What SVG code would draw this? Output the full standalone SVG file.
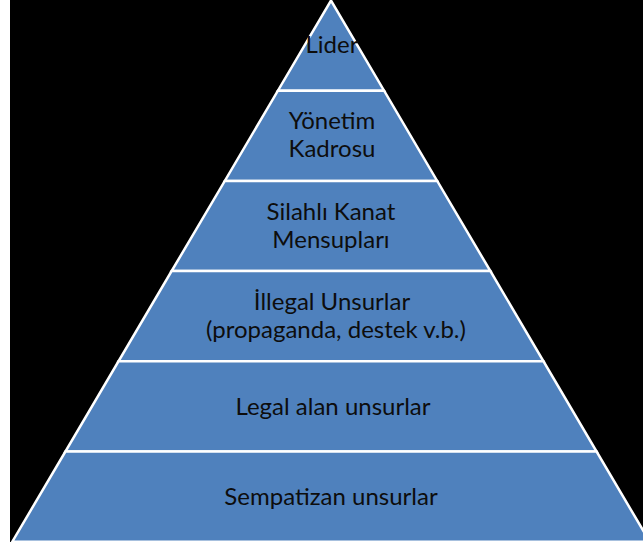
<svg xmlns="http://www.w3.org/2000/svg" width="643" height="546" viewBox="0 0 643 546">
<style>
.layer{fill:#4F81BD;stroke:#FFFFFF;stroke-width:2.5;stroke-linejoin:miter}
.lbl{font-family:Lato,"Open Sans","Liberation Sans",sans-serif;font-size:24px;fill:#0d0d0d;text-anchor:middle}
</style>
<rect x="0" y="0" width="643" height="546" fill="#FFFFFF"/>
<rect x="10" y="0" width="633" height="542" fill="#000000"/>
<g id="lider">
<polygon class="layer" points="331,0.5 384.1,90.7 277.9,90.7"/>
<text class="lbl" x="332" y="53">Lider</text>
</g>
<g id="yonetim">
<polygon class="layer" points="277.9,90.7 384.1,90.7 437.2,180.9 224.8,180.9"/>
<text class="lbl" x="332" y="129">Yönetim</text>
<text class="lbl" x="332" y="157">Kadrosu</text>
</g>
<g id="silahli">
<polygon class="layer" points="224.8,180.9 437.2,180.9 490.4,271.1 171.6,271.1"/>
<text class="lbl" x="331" y="220">Silahlı Kanat</text>
<text class="lbl" x="331" y="248">Mensupları</text>
</g>
<g id="illegal">
<polygon class="layer" points="171.6,271.1 490.4,271.1 543.5,361.3 118.5,361.3"/>
<text class="lbl" x="332" y="310">İllegal Unsurlar</text>
<text class="lbl" x="336" y="338">(propaganda, destek v.b.)</text>
</g>
<g id="legal">
<polygon class="layer" points="118.5,361.3 543.5,361.3 596.6,451.5 65.4,451.5"/>
<text class="lbl" x="333" y="415">Legal alan unsurlar</text>
</g>
<g id="sempatizan">
<polygon class="layer" points="65.4,451.5 596.6,451.5 649.7,541.7 12.3,541.7"/>
<text class="lbl" x="331" y="505">Sempatizan unsurlar</text>
</g>
</svg>
